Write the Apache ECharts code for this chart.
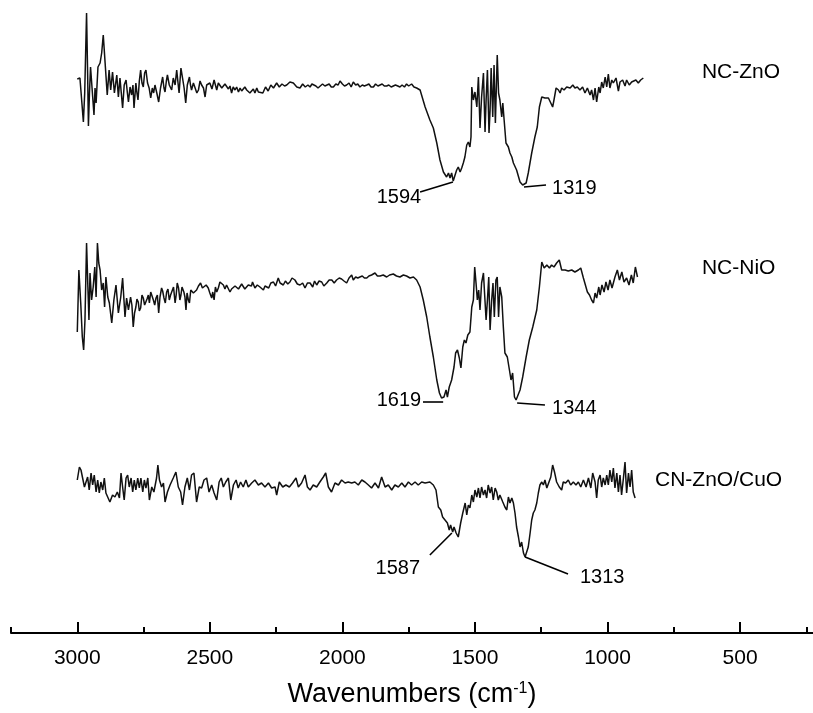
<!DOCTYPE html>
<html>
<head>
<meta charset="utf-8">
<script src="https://cdn.jsdelivr.net/npm/echarts@6/dist/echarts.min.js"></script>
<style>
  html, body { margin: 0; padding: 0; background: #fff; }
  #chart { width: 813px; height: 713px; }
</style>
</head>
<body>
<div id="chart"></div>
<script>
// 三条红外光谱（波数 cm-1, 相对透过率 a.u.，已含各自的纵向偏移）
const seriesNames = ['NC-ZnO', 'NC-NiO', 'CN-ZnO/CuO'];

const ncZnO = [
  [3000,554],[2990,555],[2983,553],[2977,511],[2972,540],[2965,620],[2961,560],[2958,507],[2954,540],[2950,566],
  [2945,565],[2937,518],[2933,545],[2929,530],[2922,566],[2914,570],[2908,580],[2902,598],[2895,570],[2887,538],
  [2880,563],[2874,543],[2867,561],[2860,540],[2851,558],[2845,536],[2839,555],[2834,540],[2829,525],[2823,548],
  [2816,553],[2811,540],[2807,531],[2801,546],[2795,538],[2790,548],[2786,525],[2779,550],[2775,540],[2771,533],
  [2766,552],[2761,563],[2756,550],[2751,546],[2746,560],[2741,563],[2735,550],[2729,545],[2723,535],[2717,545],
  [2712,540],[2707,548],[2700,540],[2693,531],[2686,545],[2678,556],[2673,545],[2669,541],[2664,552],[2660,558],
  [2653,548],[2644,543],[2638,555],[2631,548],[2625,563],[2620,550],[2616,540],[2609,565],[2603,555],[2597,545],
  [2591,530],[2585,548],[2577,556],[2573,548],[2569,543],[2562,550],[2556,548],[2549,540],[2543,543],[2537,552],
  [2531,548],[2524,545],[2518,536],[2512,548],[2506,546],[2500,550],[2492,544],[2484,553],[2479,548],[2474,543],
  [2468,550],[2462,551],[2455,545],[2449,543],[2443,549],[2437,548],[2430,544],[2424,547],[2418,540],[2412,546],
  [2405,543],[2399,546],[2392,541],[2386,545],[2380,542],[2374,541],[2368,546],[2361,543],[2355,545],[2349,540],
  [2342,538],[2336,544],[2330,540],[2323,545],[2317,541],[2311,543],[2300,540],[2290,546],[2280,542],[2270,548],
  [2260,545],[2248,550],[2238,546],[2228,549],[2218,547],[2210,548],[2198,551],[2185,550],[2172,546],[2160,545],
  [2150,549],[2140,546],[2130,548],[2122,546],[2115,549],[2110,551],[2100,547],[2092,545],[2085,545],[2075,549],
  [2066,547],[2059,548],[2050,549],[2042,546],[2034,546],[2025,549],[2016,548],[2009,552],[2000,549],[1992,547],
  [1984,548],[1975,550],[1967,546],[1959,551],[1950,548],[1942,549],[1934,546],[1925,548],[1917,547],[1908,548],
  [1900,549],[1892,546],[1883,546],[1875,549],[1866,547],[1858,548],[1850,549],[1842,547],[1833,547],[1825,548],
  [1816,546],[1808,547],[1800,548],[1791,547],[1783,546],[1775,548],[1766,546],[1758,549],[1750,547],[1739,549],
  [1730,546],[1720,545],[1707,543],[1688,526],[1670,513],[1657,505],[1644,490],[1632,473],[1619,461],[1613,460],
  [1607,456],[1600,460],[1594,455],[1588,460],[1582,452],[1575,458],[1569,463],[1563,466],[1556,461],[1550,465],
  [1544,470],[1538,476],[1531,488],[1525,491],[1519,486],[1515,496],[1512,546],[1506,533],[1500,541],[1493,526],
  [1487,556],[1481,505],[1475,536],[1468,560],[1462,501],[1458,533],[1453,563],[1447,500],[1443,523],[1439,565],
  [1433,516],[1428,568],[1423,510],[1416,578],[1411,540],[1406,533],[1399,516],[1395,530],[1390,513],[1383,490],
  [1374,486],[1368,480],[1361,476],[1355,470],[1343,463],[1330,451],[1320,448],[1315,446],[1307,450],[1299,460],
  [1286,480],[1274,496],[1265,506],[1257,526],[1248,536],[1242,538],[1236,535],[1230,536],[1223,535],[1214,530],
  [1207,526],[1202,533],[1194,545],[1185,543],[1179,540],[1173,545],[1164,543],[1154,546],[1141,545],[1131,548],
  [1123,545],[1114,546],[1104,543],[1094,546],[1085,540],[1076,545],[1066,538],[1060,543],[1053,533],[1047,545],
  [1041,531],[1033,546],[1028,540],[1022,551],[1016,545],[1009,556],[1003,546],[997,559],[991,545],[984,553],
  [978,550],[968,555],[959,542],[953,551],[943,553],[934,547],[928,553],[918,548],[909,551],[903,550],
  [893,553],[884,550],[875,553],[865,555]
];

const ncNiO = [
  [3000,301],[2994,363],[2987,330],[2981,296],[2976,283],[2971,313],[2965,390],[2960,346],[2956,313],[2952,360],
  [2946,333],[2940,346],[2934,366],[2929,336],[2924,390],[2919,370],[2914,363],[2908,343],[2902,350],[2897,326],
  [2892,356],[2885,336],[2879,330],[2870,310],[2862,333],[2854,348],[2845,320],[2836,336],[2829,355],[2820,316],
  [2814,335],[2807,323],[2799,336],[2794,328],[2789,306],[2784,320],[2779,326],[2775,334],[2770,331],[2766,322],
  [2761,325],[2756,338],[2751,335],[2746,328],[2741,326],[2737,334],[2732,338],[2728,330],[2723,341],[2718,340],
  [2713,333],[2708,328],[2703,335],[2698,338],[2693,320],[2688,336],[2682,345],[2678,342],[2673,335],[2668,330],
  [2663,341],[2658,344],[2653,333],[2648,338],[2643,340],[2637,346],[2631,330],[2627,338],[2623,350],[2618,345],
  [2613,333],[2609,338],[2605,346],[2598,341],[2594,336],[2590,323],[2586,340],[2581,333],[2577,330],[2572,343],
  [2567,342],[2562,340],[2556,338],[2550,343],[2543,347],[2535,350],[2528,345],[2522,343],[2514,348],[2506,345],
  [2500,340],[2493,335],[2489,341],[2484,333],[2479,346],[2474,341],[2468,345],[2462,351],[2456,350],[2449,348],
  [2443,344],[2437,348],[2430,347],[2424,341],[2418,344],[2411,343],[2405,347],[2399,348],[2392,344],[2386,346],
  [2380,349],[2374,348],[2368,344],[2361,343],[2355,348],[2349,346],[2343,347],[2339,351],[2330,345],[2325,344],
  [2321,348],[2316,349],[2311,346],[2298,343],[2292,347],[2286,348],[2278,345],[2270,350],[2260,351],[2252,347],
  [2242,355],[2235,350],[2223,348],[2215,352],[2206,349],[2198,351],[2190,355],[2179,353],[2170,349],[2160,348],
  [2150,350],[2141,345],[2132,350],[2122,350],[2112,346],[2105,352],[2097,348],[2088,352],[2078,351],[2070,347],
  [2059,350],[2050,353],[2040,353],[2031,350],[2022,353],[2012,355],[2003,354],[1994,352],[1984,350],[1975,355],
  [1965,358],[1959,353],[1950,356],[1942,355],[1934,356],[1925,357],[1917,355],[1908,355],[1900,357],[1890,358],
  [1877,360],[1868,357],[1858,357],[1846,358],[1833,356],[1822,358],[1808,359],[1796,357],[1783,356],[1770,358],
  [1758,357],[1745,355],[1732,356],[1720,353],[1707,346],[1695,333],[1682,316],[1670,296],[1657,276],[1644,253],
  [1634,240],[1626,235],[1617,236],[1609,243],[1604,236],[1597,246],[1588,253],[1579,266],[1573,280],[1566,283],
  [1559,275],[1553,265],[1546,286],[1540,293],[1534,290],[1527,298],[1519,301],[1512,326],[1506,333],[1501,366],
  [1496,350],[1491,333],[1486,343],[1481,323],[1475,350],[1468,360],[1463,336],[1458,313],[1453,333],[1448,356],
  [1443,303],[1437,333],[1432,350],[1427,316],[1421,353],[1416,356],[1411,316],[1406,346],[1399,336],[1393,306],
  [1387,280],[1378,276],[1370,263],[1364,253],[1358,260],[1351,236],[1345,233],[1339,235],[1330,243],[1320,256],
  [1307,276],[1295,293],[1282,306],[1267,323],[1257,346],[1248,371],[1239,365],[1229,368],[1219,365],[1211,368],
  [1202,366],[1192,370],[1182,373],[1173,363],[1160,363],[1148,362],[1135,363],[1123,361],[1110,363],[1101,365],
  [1091,355],[1085,356],[1076,341],[1068,338],[1060,333],[1053,330],[1047,340],[1041,335],[1033,346],[1028,338],
  [1021,348],[1013,341],[1006,351],[998,343],[991,353],[983,345],[972,356],[963,363],[955,353],[946,361],
  [938,351],[928,355],[919,348],[910,358],[903,350],[895,366],[887,356]
];

const cnZnOCuO = [
  [3000,153],[2992,166],[2986,163],[2980,165],[2973,146],[2967,151],[2961,156],[2955,143],[2948,160],[2942,148],
  [2936,158],[2929,141],[2923,153],[2917,140],[2911,151],[2904,143],[2898,155],[2892,140],[2885,141],[2877,131],
  [2867,138],[2858,136],[2849,141],[2841,135],[2835,160],[2829,146],[2823,133],[2816,155],[2810,158],[2804,146],
  [2797,155],[2791,141],[2785,153],[2779,143],[2772,155],[2766,145],[2760,155],[2753,141],[2747,153],[2741,145],
  [2734,155],[2728,133],[2719,146],[2711,141],[2701,155],[2696,168],[2690,153],[2682,146],[2675,150],[2669,131],
  [2660,141],[2650,148],[2638,155],[2628,161],[2619,146],[2610,141],[2603,128],[2594,146],[2585,155],[2577,143],
  [2569,158],[2560,160],[2550,131],[2540,146],[2531,145],[2522,153],[2512,155],[2503,141],[2493,148],[2484,140],
  [2474,133],[2465,151],[2457,155],[2449,146],[2440,151],[2430,155],[2421,133],[2411,148],[2401,153],[2393,145],
  [2384,151],[2374,146],[2364,153],[2355,146],[2342,150],[2330,153],[2317,148],[2305,150],[2292,146],[2279,150],
  [2267,145],[2254,146],[2248,138],[2238,151],[2225,146],[2213,148],[2200,146],[2188,150],[2175,155],[2166,146],
  [2154,150],[2141,158],[2132,146],[2122,143],[2110,148],[2097,146],[2085,151],[2072,156],[2063,160],[2053,146],
  [2041,141],[2028,150],[2015,148],[2003,153],[1990,150],[1978,151],[1965,150],[1953,151],[1940,148],[1927,153],
  [1915,151],[1902,148],[1890,145],[1877,150],[1864,145],[1852,156],[1839,146],[1827,148],[1814,143],[1802,148],
  [1789,146],[1776,150],[1764,146],[1751,151],[1739,148],[1726,151],[1714,148],[1701,151],[1688,150],[1670,151],
  [1657,148],[1647,143],[1638,126],[1629,123],[1622,116],[1613,113],[1604,110],[1597,103],[1592,108],[1584,101],
  [1579,106],[1571,100],[1563,96],[1554,110],[1546,120],[1537,130],[1531,118],[1525,128],[1519,125],[1512,138],
  [1506,131],[1500,143],[1493,136],[1487,145],[1481,135],[1475,146],[1468,138],[1462,143],[1456,135],[1450,148],
  [1443,140],[1437,146],[1431,133],[1424,145],[1418,141],[1412,133],[1406,138],[1395,131],[1387,126],[1380,123],
  [1374,136],[1368,130],[1361,135],[1355,130],[1349,120],[1343,106],[1336,96],[1330,86],[1324,91],[1317,80],
  [1311,76],[1305,78],[1299,86],[1292,100],[1286,113],[1280,120],[1274,123],[1267,130],[1261,140],[1255,148],
  [1248,151],[1242,148],[1236,153],[1229,145],[1223,146],[1214,156],[1207,168],[1200,161],[1192,151],[1182,146],
  [1173,143],[1167,151],[1158,150],[1148,153],[1139,148],[1129,151],[1119,148],[1110,151],[1101,146],[1091,153],
  [1081,146],[1072,155],[1063,145],[1056,160],[1047,151],[1041,135],[1035,153],[1028,158],[1022,146],[1016,155],
  [1009,148],[1003,158],[997,148],[991,163],[984,151],[978,165],[972,145],[965,160],[959,141],[953,158],
  [947,138],[940,155],[934,171],[928,140],[921,160],[915,146],[909,163],[903,141],[896,135]
];

// 坐标轴刻度
const majorTicks = [3000, 2500, 2000, 1500, 1000, 500];
const minorTicks = [3250, 2750, 2250, 1750, 1250, 750, 250];

// 标注的峰位
const peakLabels = [['1594', '1319'], ['1619', '1344'], ['1587', '1313']];

const FONT = '"Liberation Sans", Arial, Helvetica, sans-serif';

const chart = echarts.init(document.getElementById('chart'));

// 文字标注（markPoint 不画点，只显示文字）
function textAt(text, coord, side, size) {
  return {
    coord: coord,
    symbol: 'circle',
    symbolSize: 0,
    label: {
      show: true,
      formatter: text,
      position: side,
      distance: 0,
      color: '#000',
      fontSize: size || 20,
      fontFamily: FONT
    }
  };
}

// 引线
function leader(from, to) {
  return [{ coord: from }, { coord: to }];
}

const annotations = [
  {
    texts: [
      textAt(seriesNames[0], [644, 561], 'right', 21),
      textAt(peakLabels[0][0], [1703, 436], 'left'),
      textAt(peakLabels[0][1], [1209, 445], 'right')
    ],
    lines: [leader([1583, 451], [1707, 441]), leader([1315, 446], [1232, 448])]
  },
  {
    texts: [
      textAt(seriesNames[1], [644, 365], 'right', 21),
      textAt(peakLabels[1][0], [1703, 233], 'left'),
      textAt(peakLabels[1][1], [1209, 225], 'right')
    ],
    lines: [leader([1696, 231], [1620, 231]), leader([1341, 230], [1236, 228])]
  },
  {
    texts: [
      textAt(seriesNames[2], [821, 153], 'right', 21),
      textAt(peakLabels[2][0], [1707, 65], 'left'),
      textAt(peakLabels[2][1], [1104, 56], 'right')
    ],
    lines: [leader([1670, 78], [1587, 100]), leader([1311, 76], [1149, 59])]
  }
];

const spectra = [ncZnO, ncNiO, cnZnOCuO];

const option = {
  animation: false,
  backgroundColor: '#fff',
  grid: { left: 11, right: 0, top: 3, bottom: 80 },
  xAxis: [
    {
      type: 'value',
      inverse: true,
      min: 225,
      max: 3250,
      name: '{a|Wavenumbers (cm}{s|-1}{a|)}',
      nameLocation: 'middle',
      nameGap: 48,
      nameTextStyle: {
        rich: {
          a: { fontSize: 27, fontFamily: FONT, color: '#000' },
          s: { fontSize: 16, fontFamily: FONT, color: '#000', verticalAlign: 'top' }
        }
      },
      axisLine: { show: true, lineStyle: { color: '#000', width: 2 } },
      axisTick: { show: true, inside: true, length: 11, lineStyle: { color: '#000', width: 2 }, customValues: majorTicks },
      axisLabel: {
        show: true, margin: 15, color: '#000', fontSize: 21, fontFamily: FONT,
        customValues: majorTicks,
        formatter: (v) => String(v)
      },
      splitLine: { show: false }
    },
    {
      type: 'value',
      position: 'bottom',
      inverse: true,
      min: 225,
      max: 3250,
      axisLine: { show: false },
      axisTick: { show: true, inside: true, length: 6, lineStyle: { color: '#000', width: 2 }, customValues: minorTicks },
      axisLabel: { show: false, customValues: minorTicks },
      splitLine: { show: false }
    }
  ],
  yAxis: { type: 'value', min: 0, max: 630, show: false },
  series: spectra.map((data, i) => ({
    name: seriesNames[i],
    type: 'line',
    xAxisIndex: 0,
    data: data,
    showSymbol: false,
    symbol: 'none',
    silent: true,
    lineStyle: { color: '#111', width: 1.5 },
    markPoint: { silent: true, data: annotations[i].texts },
    markLine: {
      silent: true,
      symbol: ['none', 'none'],
      label: { show: false },
      lineStyle: { color: '#000', width: 1.6, type: 'solid' },
      data: annotations[i].lines
    }
  }))
};

chart.setOption(option);
</script>
</body>
</html>
